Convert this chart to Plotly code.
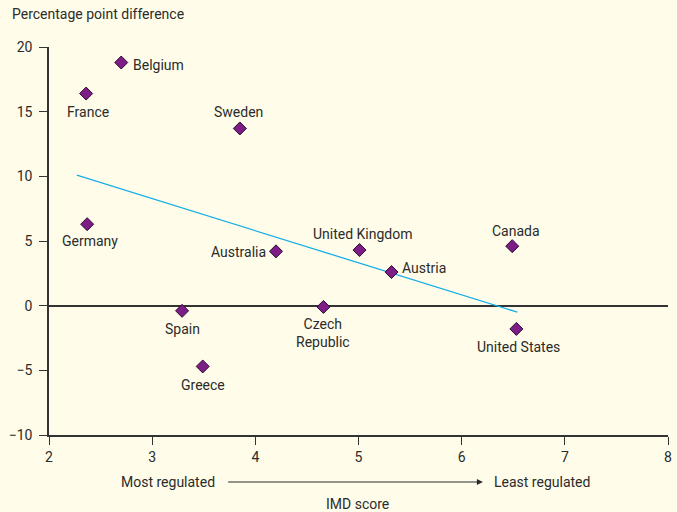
import numpy as np
import plotly.graph_objects as go

countries = ["Belgium", "France", "Sweden", "Germany", "Australia", "United Kingdom",
             "Austria", "Canada", "Spain", "Czech Republic", "United States", "Greece"]
imd_score = [2.70, 2.36, 3.85, 2.37, 4.20, 5.01, 5.32, 6.49, 3.29, 4.66, 6.53, 3.49]
pp_diff = [18.8, 16.4, 13.7, 6.3, 4.2, 4.3, 2.6, 4.6, -0.4, -0.1, -1.8, -4.7]
trend_x_range = [2.27, 6.54]
x_ticks = [2, 3, 4, 5, 6, 7, 8]
y_ticks = [-10, -5, 0, 5, 10, 15, 20]

# label display text and offsets (style)
label_text = {"Czech Republic": "Czech<br>Republic"}
label_style = {
    "Belgium": dict(xanchor="left", yanchor="middle", xshift=10, yshift=-2),
    "France": dict(xanchor="center", yanchor="top", xshift=2, yshift=-8),
    "Sweden": dict(xanchor="center", yanchor="bottom", xshift=-1, yshift=6),
    "Germany": dict(xanchor="center", yanchor="top", xshift=3, yshift=-7),
    "Australia": dict(xanchor="right", yanchor="middle", xshift=-8, yshift=-1),
    "United Kingdom": dict(xanchor="center", yanchor="bottom", xshift=3, yshift=6),
    "Austria": dict(xanchor="left", yanchor="middle", xshift=8, yshift=4),
    "Canada": dict(xanchor="center", yanchor="bottom", xshift=4, yshift=5),
    "Spain": dict(xanchor="center", yanchor="top", xshift=0, yshift=-8),
    "Czech Republic": dict(xanchor="center", yanchor="top", xshift=0, yshift=-7),
    "United States": dict(xanchor="center", yanchor="top", xshift=2, yshift=-8),
    "Greece": dict(xanchor="center", yanchor="top", xshift=0, yshift=-9),
}

FONT = "Roboto, Liberation Sans, sans-serif"
FS = 14
TXT = "#2b2b2b"
BG = "#fffdea"

slope, intercept = np.polyfit(imd_score, pp_diff, 1)
tx = np.array(trend_x_range)
ty = slope * tx + intercept

fig = go.Figure()
fig.add_trace(go.Scatter(x=tx, y=ty, mode="lines",
                         line=dict(color="#18aee8", width=1.3), hoverinfo="skip"))
fig.add_trace(go.Scatter(x=imd_score, y=pp_diff, mode="markers", text=countries,
                         marker=dict(symbol="diamond", size=10, color="#7d1e86",
                                     line=dict(color="#2e0a33", width=1))))

annotations = []
for c, x, y in zip(countries, imd_score, pp_diff):
    annotations.append(dict(x=x, y=y, xref="x", yref="y", text=label_text.get(c, c),
                            showarrow=False, font=dict(size=FS, color=TXT, family=FONT),
                            **label_style[c]))

annotations += [
    dict(text="Percentage point difference", xref="paper", yref="paper", x=-0.063, y=1.058,
         xanchor="left", yanchor="bottom", showarrow=False,
         font=dict(size=FS, color=TXT, family=FONT)),
    dict(text="Most regulated", xref="paper", yref="paper", x=0.192, y=0, yshift=-47,
         xanchor="center", yanchor="middle", showarrow=False,
         font=dict(size=FS, color=TXT, family=FONT)),
    dict(text="Least regulated", xref="paper", yref="paper", x=0.797, y=0, yshift=-47,
         xanchor="center", yanchor="middle", showarrow=False,
         font=dict(size=FS, color=TXT, family=FONT)),
    dict(text="IMD score", xref="paper", yref="paper", x=0.498, y=0, yshift=-69,
         xanchor="center", yanchor="middle", showarrow=False,
         font=dict(size=FS, color=TXT, family=FONT)),
    dict(text="", xref="x domain", yref="y domain", ax=0.287, ay=0, x=0.701, y=0,
         axref="x domain", ayref="y domain", yshift=-47, showarrow=True,
         arrowhead=2, arrowsize=1.1, arrowwidth=1.1, arrowcolor=TXT),
]

fig.update_layout(
    width=677, height=512,
    margin=dict(l=49, r=9, t=47, b=77, autoexpand=False),
    paper_bgcolor=BG, plot_bgcolor=BG,
    showlegend=False,
    font=dict(family=FONT, size=FS, color=TXT),
    annotations=annotations,
    xaxis=dict(range=[2, 8], tickvals=x_ticks, showgrid=False, zeroline=False,
               showline=True, linecolor="#333", linewidth=1.5, automargin=False,
               ticks="outside", ticklen=8, tickcolor="#333", tickwidth=1.2,
               tickfont=dict(size=FS, color=TXT, family=FONT)),
    yaxis=dict(range=[-10, 20], tickvals=y_ticks, showgrid=False, automargin=False,
               zeroline=True, zerolinecolor="#333", zerolinewidth=1.5,
               showline=True, linecolor="#333", linewidth=1.5,
               ticks="outside", ticklen=8, tickcolor="#333", tickwidth=1.2,
               ticklabelstandoff=4,
               tickfont=dict(size=FS, color=TXT, family=FONT)),
)

fig.write_html("out.html", config={"displayModeBar": False},
               post_script="document.body.style.margin='0';document.body.style.overflow='hidden';")
